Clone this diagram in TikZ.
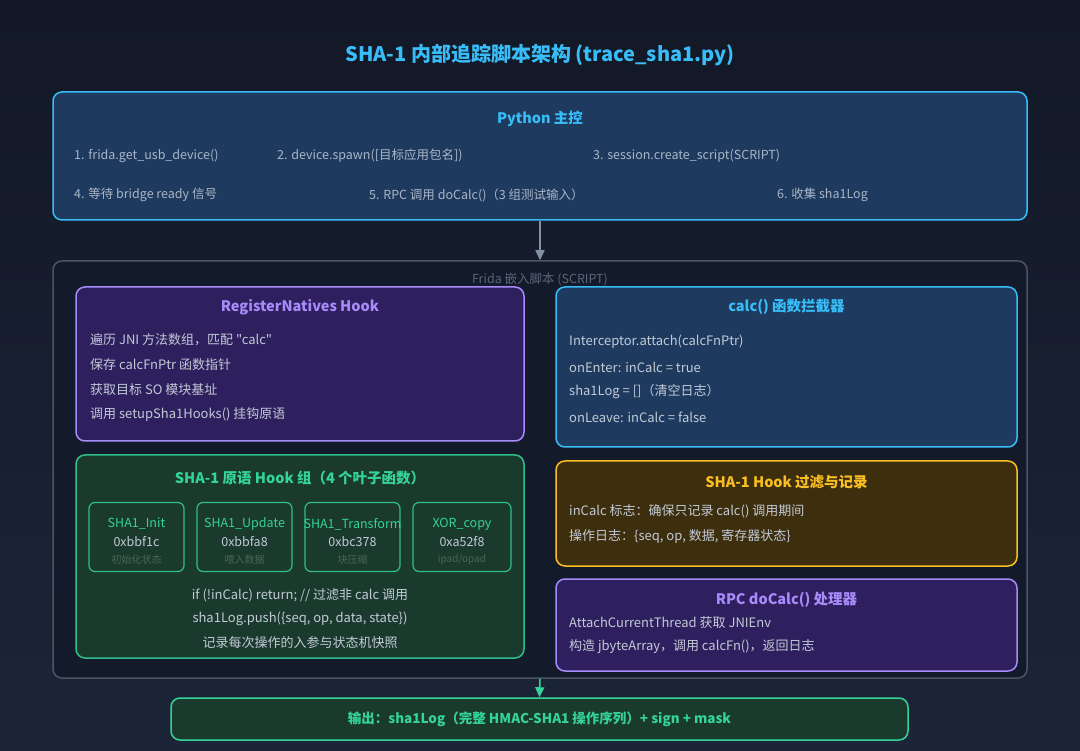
\documentclass[tikz,border=0pt]{standalone}
\usepackage{fontspec}
\setmainfont{Noto Sans CJK SC}
\newfontfamily\nq{Noto Sans CJK SC}[Ligatures=ResetAll]
\usetikzlibrary{arrows.meta}
\definecolor{bgtop}{HTML}{121826}
\definecolor{bgbot}{HTML}{1C2438}
\definecolor{sky}{HTML}{38BDF8}
\definecolor{skyfill}{HTML}{1E3A5F}
\definecolor{purp}{HTML}{A78BFA}
\definecolor{purpfill}{HTML}{2E1F5E}
\definecolor{grn}{HTML}{34D399}
\definecolor{grnbd}{HTML}{2FBF88}
\definecolor{grnfill}{HTML}{1B3A2E}
\definecolor{amb}{HTML}{FBBF24}
\definecolor{ambfill}{HTML}{3D2E0E}
\definecolor{txt}{HTML}{C2CAD6}
\definecolor{txtpy}{HTML}{AAB6C6}
\definecolor{frbd}{HTML}{4B5563}
\definecolor{frfill}{HTML}{131A2A}
\definecolor{frtxt}{HTML}{5A6578}
\definecolor{dimg}{HTML}{4A6558}
\definecolor{arrg}{HTML}{8391A3}
\tikzset{
  panel/.style={draw, rectangle, rounded corners=9pt, line width=1.5pt, inner sep=0pt},
  leafbox/.style={draw=grnbd, fill=grnfill, rectangle, rounded corners=6pt, line width=1.2pt, inner sep=0pt, minimum width=95pt, minimum height=69pt},
  ttl/.style={font=\fontsize{14.5}{17}\selectfont\bfseries, inner sep=0pt},
  body/.style={font=\fontsize{13}{15}\selectfont, text=txt, inner sep=0pt, anchor=west},
  pyt/.style={font=\fontsize{12.5}{15}\selectfont, text=txtpy, inner sep=0pt, anchor=west},
  ctr/.style={font=\fontsize{13}{15}\selectfont, text=txt, inner sep=0pt},
  lname/.style={font=\fontsize{12.5}{15}\selectfont, text=grn, inner sep=0pt},
  laddr/.style={font=\fontsize{12.5}{15}\selectfont, text=txt, inner sep=0pt},
  lsub/.style={font=\fontsize{10}{12}\selectfont, text=dimg, inner sep=0pt},
  conn/.style={line width=1.5pt, -{Triangle[length=10pt,width=9pt]}},
}
\begin{document}
\begin{tikzpicture}[x=1pt,y=-1pt]
\useasboundingbox (0,0) rectangle (1080,751);
\shade[top color=bgtop, bottom color=bgbot] (0,0) rectangle (1080,751);

% title
\node[font=\fontsize{20}{24}\selectfont\bfseries, text=sky, inner sep=0pt] (title) at (540,55) {SHA-1 内部追踪脚本架构 (trace\_sha1.py)};

% Python box
\node[panel, draw=sky, fill=skyfill, minimum width=974pt, minimum height=128pt] (py) at (540,156) {};
\node[ttl, text=sky] (pyt) at (540,119) {Python 主控};
\node[pyt] (p1) at (74,156) {1. frida.get\_usb\_device()};
\node[pyt] (p2) at (277,156) {2. device.spawn([目标应用包名])};
\node[pyt] (p3) at (593,156) {3. session.create\_script(SCRIPT)};
\node[pyt] (p4) at (74,195) {4. 等待 bridge ready 信号};
\node[pyt] (p5) at (369,195) {5. RPC 调用 doCalc()（3 组测试输入）};
\node[pyt] (p6) at (777,195) {6. 收集 sha1Log};

% Frida frame
\node[panel, draw=frbd, fill=frfill, minimum width=974pt, minimum height=417pt] (frame) at (540,469.5) {};
\node[font=\fontsize{12.5}{15}\selectfont, text=frtxt, inner sep=0pt] (frl) at (540,279) {Frida 嵌入脚本 (SCRIPT)};

\draw[conn, draw=arrg, fill=arrg] (py.south) -- (frame.north);

% RegisterNatives
\node[panel, draw=purp, fill=purpfill, minimum width=448pt, minimum height=154pt] (rn) at (300,364) {};
\node[ttl, text=purp] (rnt) at (300,307) {RegisterNatives Hook};
\node[body] (r1) at (90,340) {遍历 JNI 方法数组，匹配 {\nq "calc"}};
\node[body] (r2) at (90,365) {保存 calcFnPtr 函数指针};
\node[body] (r3) at (90,390) {获取目标 SO 模块基址};
\node[body] (r4) at (90,415) {调用 setupSha1Hooks() 挂钩原语};

% SHA-1 group
\node[panel, draw=grnbd, fill=grnfill, minimum width=448pt, minimum height=203pt] (grp) at (300,556.5) {};
\node[ttl, text=grn] (grpt) at (300,478) {SHA-1 原语 Hook 组（4 个叶子函数）};

\node[leafbox] (l1) at (136.5,537) {};
\node[lname] (l1n) at (136.5,524) {SHA1\_Init};
\node[laddr] (l1a) at (136.5,542) {0xbbf1c};
\node[lsub] (l1s) at (136.5,560) {初始化状态};

\node[leafbox] (l2) at (244.5,537) {};
\node[lname] (l2n) at (244.5,524) {SHA1\_Update};
\node[laddr] (l2a) at (244.5,542) {0xbbfa8};
\node[lsub] (l2s) at (244.5,560) {喂入数据};

\node[leafbox] (l3) at (352.5,537) {};
\node[lname] (l3n) at (352.5,524) {SHA1\_Transform};
\node[laddr] (l3a) at (352.5,542) {0xbc378};
\node[lsub] (l3s) at (352.5,560) {块压缩};

\node[leafbox, minimum width=98pt] (l4) at (462,537) {};
\node[lname] (l4n) at (462,524) {XOR\_copy};
\node[laddr] (l4a) at (462,542) {0xa52f8};
\node[lsub] (l4s) at (462,560) {ipad/opad};

\node[ctr] (g1) at (300,595) {if (!inCalc) return; // 过滤非 calc 调用};
\node[ctr] (g2) at (300,619) {sha1Log.push(\{seq, op, data, state\})};
\node[ctr] (g3) at (300,643) {记录每次操作的入参与状态机快照};

% calc box
\node[panel, draw=sky, fill=skyfill, minimum width=461pt, minimum height=160pt] (calc) at (786.5,367) {};
\node[ttl, text=sky] (calct) at (786.5,307) {calc() 函数拦截器};
\node[body] (c1) at (569,342) {Interceptor.attach(calcFnPtr)};
\node[body] (c2) at (569,367) {onEnter: inCalc = true};
\node[body] (c3) at (569,392) {sha1Log = []（清空日志）};
\node[body] (c4) at (569,417) {onLeave: inCalc = false};

% filter box
\node[panel, draw=amb, fill=ambfill, minimum width=461pt, minimum height=105pt] (flt) at (786.5,513.5) {};
\node[ttl, text=amb] (fltt) at (786.5,482) {SHA-1 Hook 过滤与记录};
\node[body] (f1) at (569,511) {inCalc 标志：确保只记录 calc() 调用期间};
\node[body] (f2) at (569,536) {操作日志：\{seq, op, 数据, 寄存器状态\}};

% RPC box
\node[panel, draw=purp, fill=purpfill, minimum width=461pt, minimum height=92pt] (rpc) at (786.5,625) {};
\node[ttl, text=purp] (rpct) at (786.5,600) {RPC doCalc() 处理器};
\node[body] (q1) at (569,623) {AttachCurrentThread 获取 JNIEnv};
\node[body] (q2) at (569,647) {构造 jbyteArray，调用 calcFn()，返回日志};

% output
\node[panel, draw=grn, fill=grnfill, minimum width=737pt, minimum height=42pt] (out) at (539.5,719) {};
\node[font=\fontsize{13.5}{16}\selectfont\bfseries, text=grn, inner sep=0pt] (outt) at (539.5,719) {输出：sha1Log（完整 HMAC-SHA1 操作序列）+ sign + mask};

\draw[conn, draw=grn, fill=grn] (frame.south) -- (out.north);
\end{tikzpicture}
\end{document}
